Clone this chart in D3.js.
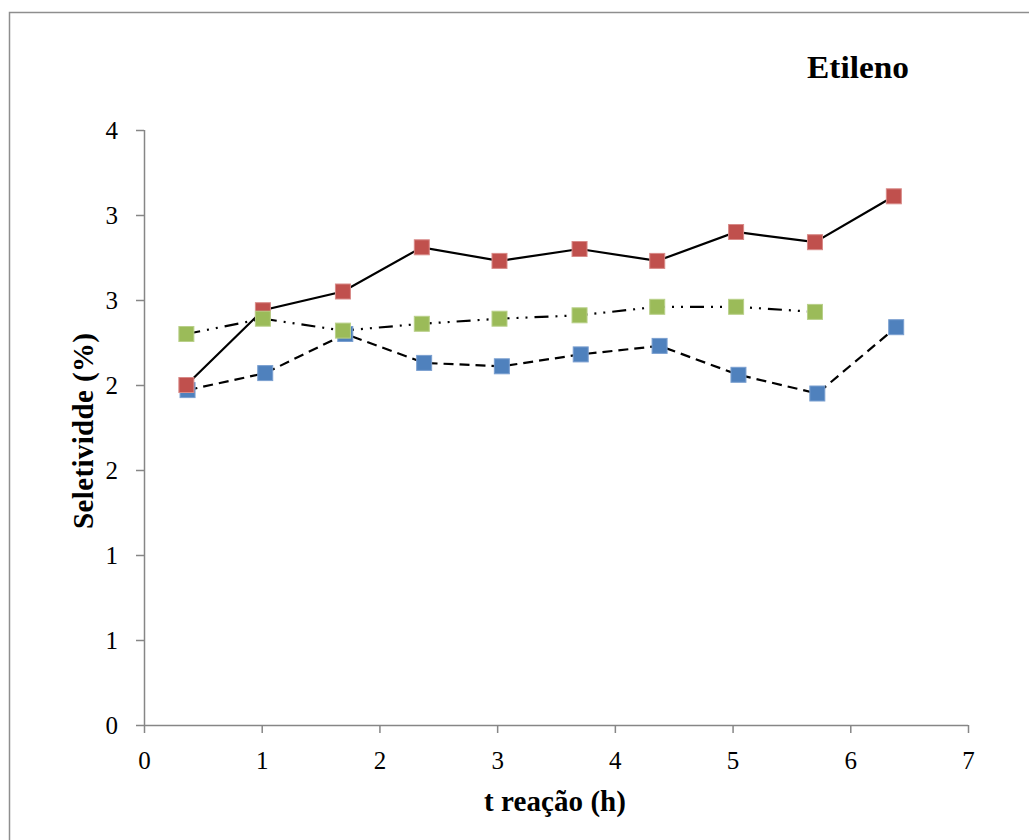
<!DOCTYPE html>
<html><head><meta charset="utf-8">
<script src="https://cdn.jsdelivr.net/npm/d3@7"></script>
<style>body{margin:0;background:#fff;}svg{display:block;}</style>
</head><body>
<script>
const xRed = [0.36, 1.01, 1.69, 2.36, 3.02, 3.70, 4.36, 5.03, 5.70, 6.37];
const yRed = [2.00, 2.44, 2.55, 2.81, 2.73, 2.80, 2.73, 2.90, 2.84, 3.11];
const xBlue = [0.37, 1.03, 1.71, 2.38, 3.04, 3.71, 4.38, 5.05, 5.72, 6.39];
const yBlue = [1.97, 2.07, 2.30, 2.13, 2.11, 2.18, 2.23, 2.06, 1.95, 2.34];
const xGreen = [0.36, 1.01, 1.69, 2.36, 3.02, 3.70, 4.36, 5.03, 5.70];
const yGreen = [2.30, 2.39, 2.32, 2.36, 2.39, 2.41, 2.46, 2.46, 2.43];
const xTicks = [0,1,2,3,4,5,6,7];
const yTicks = [0,0.5,1,1.5,2,2.5,3,3.5];
const yTickLabels = ["0","1","1","2","2","3","3","4"];

const W=1029,H=840;
const svg=d3.select("body").append("svg").attr("width",W).attr("height",H);
const font="'Liberation Serif','DejaVu Serif',serif";
svg.append("rect").attr("x",9.5).attr("y",12.5).attr("width",1040).attr("height",850)
  .attr("fill","none").attr("stroke","#8e8e8e").attr("stroke-width",1.5);

const x=d3.scaleLinear().domain([0,7]).range([144,968]);
const y=d3.scaleLinear().domain([0,3.5]).range([725,130]);
const axisColor="#868686";

const gx=svg.append("g").attr("transform","translate(0,725)")
  .call(d3.axisBottom(x).tickValues(xTicks).tickSize(8).tickPadding(18).tickFormat(d3.format("d")));
const gy=svg.append("g").attr("transform","translate(144,0)")
  .call(d3.axisLeft(y).tickValues(yTicks).tickSize(8).tickPadding(18).tickFormat((d,i)=>yTickLabels[i]));
[gx,gy].forEach(g=>{
  g.select(".domain").attr("stroke",axisColor).attr("stroke-width",1.5);
  g.selectAll(".tick line").attr("stroke",axisColor).attr("stroke-width",1.5);
  g.selectAll("text").attr("fill","#000").style("font-family",font).style("font-size","25px");
});
gy.selectAll(".domain").attr("d",`M0.5,${y(3.5)}V${y(0)}`);
gx.selectAll(".domain").attr("d",`M${144},0.5H968`);

const series=[
  {xs:xBlue,ys:yBlue,fill:"#4F81BD",stroke:"#7a9fd0",dash:"10,6"},
  {xs:xRed,ys:yRed,fill:"#C0504D",stroke:"#d88a88",dash:null},
  {xs:xGreen,ys:yGreen,fill:"#9BBB59",stroke:"#b9d08a",dash:"14,7,2,7,2,7"}
];
const line=d3.line().x(d=>x(d[0])).y(d=>y(d[1]));
series.forEach(s=>{
  const pts=s.xs.map((v,i)=>[v,s.ys[i]]);
  const p=svg.append("path").datum(pts).attr("d",line).attr("fill","none")
    .attr("stroke","#000").attr("stroke-width",2.2);
  if(s.dash) p.attr("stroke-dasharray",s.dash);
});
series.forEach(s=>{
  const pts=s.xs.map((v,i)=>[v,s.ys[i]]);
  svg.selectAll(null).data(pts).enter().append("rect")
    .attr("x",d=>x(d[0])-7.5).attr("y",d=>y(d[1])-7.5).attr("width",15).attr("height",15)
    .attr("fill",s.fill).attr("stroke",s.stroke).attr("stroke-width",1);
});

svg.append("text").attr("x",858).attr("y",78).attr("text-anchor","middle")
  .style("font-family",font).style("font-weight","bold").style("font-size","32px")
  .attr("textLength",102).attr("lengthAdjust","spacingAndGlyphs").text("Etileno");
svg.append("text").attr("x",555).attr("y",811).attr("text-anchor","middle")
  .style("font-family",font).style("font-weight","bold").style("font-size","29px")
  .attr("textLength",142).attr("lengthAdjust","spacing").text("t reação (h)");
svg.append("text").attr("transform","translate(93,431) rotate(-90)").attr("text-anchor","middle")
  .style("font-family",font).style("font-weight","bold").style("font-size","29px")
  .attr("textLength",196).attr("lengthAdjust","spacing").text("Seletividde (%)");
</script>
</body></html>
